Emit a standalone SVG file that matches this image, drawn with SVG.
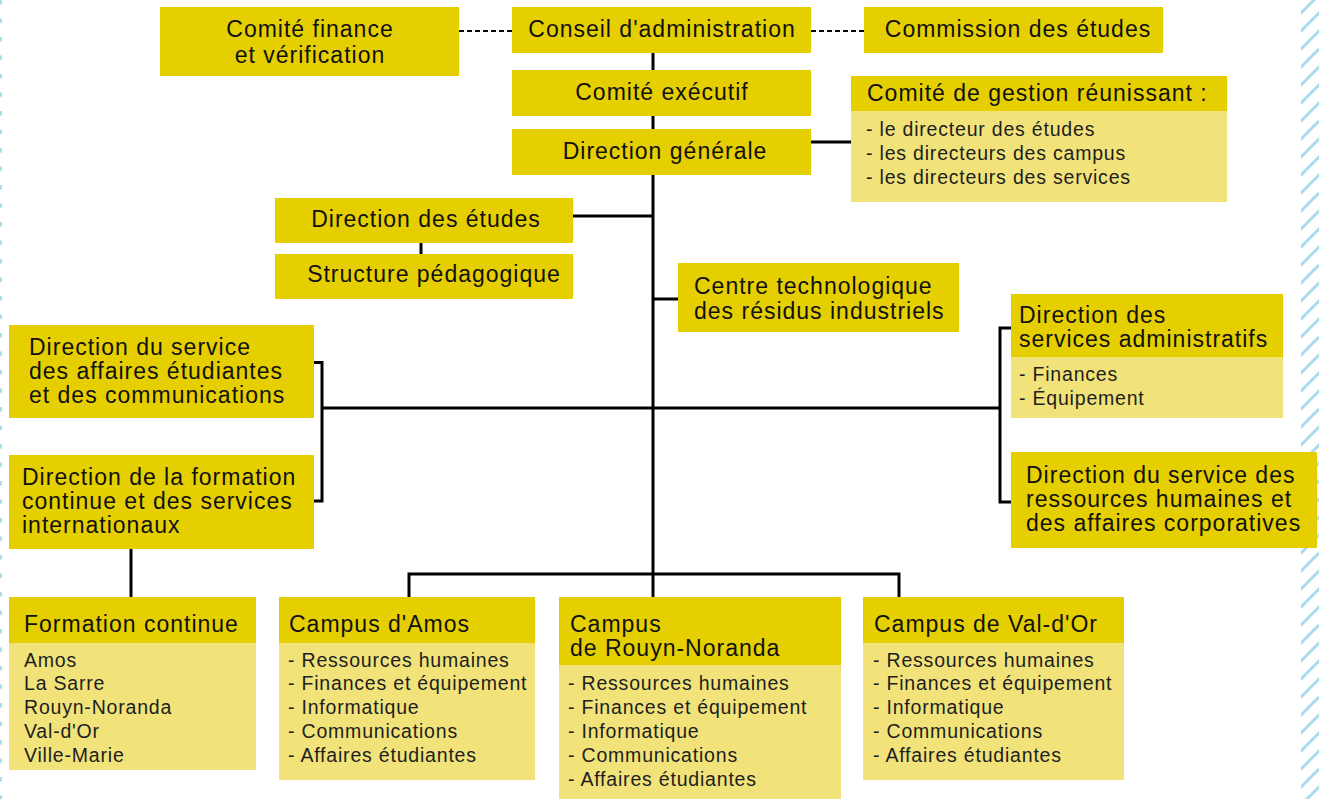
<svg xmlns="http://www.w3.org/2000/svg" width="1319" height="799" viewBox="0 0 1319 799">
<style>
.hd{fill:#e6cf00}
.bd{fill:#f1e37a}
.h{font-family:"Liberation Sans",Arial,sans-serif;font-size:23px;letter-spacing:1px;fill:#111}
.b{font-family:"Liberation Sans",Arial,sans-serif;font-size:19.5px;letter-spacing:0.8px;fill:#1e1e1e}
.c{text-anchor:middle}
.ln{stroke:#000;stroke-width:3;fill:none}
.dash{stroke:#000;stroke-width:2;stroke-dasharray:5 3;fill:none}
</style>
<defs>
<pattern id="hatch" patternUnits="userSpaceOnUse" width="18" height="18">
<path d="M-2,2 L2,-2 M0,18 L18,0 M16,20 L20,16" stroke="#a8dcec" stroke-width="3"/>
</pattern>
<pattern id="ldash" patternUnits="userSpaceOnUse" width="3" height="18.5">
<rect x="0" y="0" width="2" height="4.5" fill="#a8dcec"/>
</pattern>
</defs>
<rect width="1319" height="799" fill="#fff"/>
<rect x="0" y="0" width="3" height="799" fill="url(#ldash)"/>
<rect x="1301" y="0" width="18" height="799" fill="url(#hatch)"/>

<g id="connectors">
<path class="dash" d="M459,31 H512 M811,31 H864"/>
<path class="ln" d="M653,53 V597"/>
<path class="ln" d="M811,142 H851"/>
<path class="ln" d="M573,216 H653"/>
<path class="ln" d="M421,243 V254"/>
<path class="ln" d="M653,299 H678"/>
<path class="ln" d="M313,362.5 H322 V501 H313"/>
<path class="ln" d="M322,408 H1000"/>
<path class="ln" d="M1011,328 H1000 V502 H1011"/>
<path class="ln" d="M131,549 V597"/>
<path class="ln" d="M409,597 V574 H899 V597"/>
</g>

<g id="comite-finance">
<rect class="hd" x="160" y="7" width="299" height="69"/>
<text class="h c" x="310" y="37">Comité finance</text>
<text class="h c" x="310" y="63">et vérification</text>
</g>
<g id="conseil">
<rect class="hd" x="512" y="7" width="299" height="46"/>
<text class="h c" x="662" y="37">Conseil d'administration</text>
</g>
<g id="commission">
<rect class="hd" x="864" y="7" width="299" height="46"/>
<text class="h c" x="1018" y="37">Commission des études</text>
</g>
<g id="comite-executif">
<rect class="hd" x="512" y="70" width="299" height="46"/>
<text class="h c" x="662" y="100">Comité exécutif</text>
</g>
<g id="direction-generale">
<rect class="hd" x="512" y="129" width="299" height="46"/>
<text class="h c" x="665" y="159">Direction générale</text>
</g>
<g id="comite-gestion">
<rect class="hd" x="851" y="76" width="376" height="35"/>
<rect class="bd" x="851" y="111" width="376" height="91"/>
<text class="h" x="867" y="101">Comité de gestion réunissant :</text>
<text class="b" x="866" y="136">- le directeur des études</text>
<text class="b" x="866" y="160">- les directeurs des campus</text>
<text class="b" x="866" y="184">- les directeurs des services</text>
</g>
<g id="direction-etudes">
<rect class="hd" x="275" y="198" width="298" height="45"/>
<text class="h c" x="426" y="227">Direction des études</text>
</g>
<g id="structure-pedagogique">
<rect class="hd" x="275" y="254" width="298" height="45"/>
<text class="h c" x="434" y="282">Structure pédagogique</text>
</g>
<g id="centre-technologique">
<rect class="hd" x="678" y="263" width="281" height="69"/>
<text class="h" x="694" y="294">Centre technologique</text>
<text class="h" x="694" y="319">des résidus industriels</text>
</g>
<g id="affaires-etudiantes">
<rect class="hd" x="9" y="325" width="305" height="93"/>
<text class="h" x="29" y="355">Direction du service</text>
<text class="h" x="29" y="379">des affaires étudiantes</text>
<text class="h" x="29" y="403">et des communications</text>
</g>
<g id="formation-continue-dir">
<rect class="hd" x="9" y="455" width="305" height="94"/>
<text class="h" x="22" y="485">Direction de la formation</text>
<text class="h" x="22" y="509">continue et des services</text>
<text class="h" x="22" y="533">internationaux</text>
</g>
<g id="services-administratifs">
<rect class="hd" x="1011" y="294" width="272" height="63"/>
<rect class="bd" x="1011" y="357" width="272" height="61"/>
<text class="h" x="1019" y="323">Direction des</text>
<text class="h" x="1019" y="347">services administratifs</text>
<text class="b" x="1019" y="381">- Finances</text>
<text class="b" x="1019" y="405">- Équipement</text>
</g>
<g id="ressources-humaines">
<rect class="hd" x="1011" y="452" width="306" height="96"/>
<text class="h" x="1026" y="483">Direction du service des</text>
<text class="h" x="1026" y="507">ressources humaines et</text>
<text class="h" x="1026" y="531">des affaires corporatives</text>
</g>
<g id="formation-continue">
<rect class="hd" x="9" y="597" width="247" height="46"/>
<rect class="bd" x="9" y="643" width="247" height="127"/>
<text class="h" x="24" y="632">Formation continue</text>
<text class="b" x="24" y="667">Amos</text>
<text class="b" x="24" y="690">La Sarre</text>
<text class="b" x="24" y="714">Rouyn-Noranda</text>
<text class="b" x="24" y="738">Val-d'Or</text>
<text class="b" x="24" y="762">Ville-Marie</text>
</g>
<g id="campus-amos">
<rect class="hd" x="279" y="597" width="256" height="46"/>
<rect class="bd" x="279" y="643" width="256" height="137"/>
<text class="h" x="289" y="632">Campus d'Amos</text>
<text class="b" x="288" y="667">- Ressources humaines</text>
<text class="b" x="288" y="690">- Finances et équipement</text>
<text class="b" x="288" y="714">- Informatique</text>
<text class="b" x="288" y="738">- Communications</text>
<text class="b" x="288" y="762">- Affaires étudiantes</text>
</g>
<g id="campus-rouyn">
<rect class="hd" x="559" y="597" width="282" height="68"/>
<rect class="bd" x="559" y="665" width="282" height="134"/>
<text class="h" x="570" y="632">Campus</text>
<text class="h" x="570" y="656">de Rouyn-Noranda</text>
<text class="b" x="568" y="690">- Ressources humaines</text>
<text class="b" x="568" y="714">- Finances et équipement</text>
<text class="b" x="568" y="738">- Informatique</text>
<text class="b" x="568" y="762">- Communications</text>
<text class="b" x="568" y="786">- Affaires étudiantes</text>
</g>
<g id="campus-valdor">
<rect class="hd" x="863" y="597" width="261" height="46"/>
<rect class="bd" x="863" y="643" width="261" height="137"/>
<text class="h" x="874" y="632">Campus de Val-d'Or</text>
<text class="b" x="873" y="667">- Ressources humaines</text>
<text class="b" x="873" y="690">- Finances et équipement</text>
<text class="b" x="873" y="714">- Informatique</text>
<text class="b" x="873" y="738">- Communications</text>
<text class="b" x="873" y="762">- Affaires étudiantes</text>
</g>
</svg>
